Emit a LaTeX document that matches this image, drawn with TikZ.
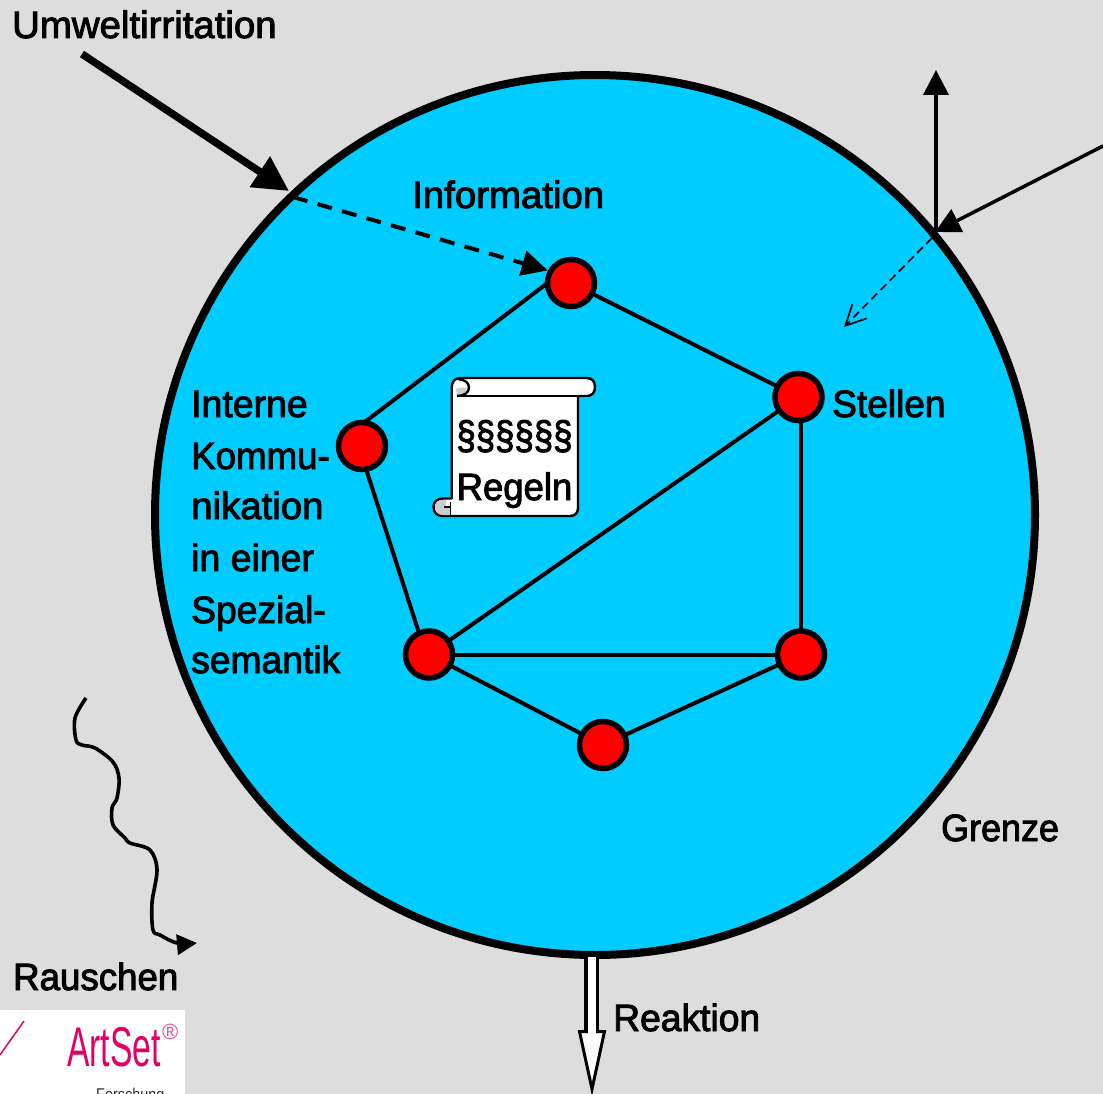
\documentclass[tikz,border=0pt]{standalone}
\usepackage{fontspec}
\setmainfont{Liberation Sans}
\newfontfamily\lblfont{Liberation Sans}[FakeBold=2.5]
\usetikzlibrary{arrows.meta}
\definecolor{bgc}{RGB}{221,221,221}
\definecolor{cyanc}{RGB}{0,204,255}
\definecolor{pinkc}{RGB}{226,0,100}
\definecolor{curlc}{RGB}{204,204,204}
\tikzset{
 lbl/.style={font=\lblfont\fontsize{38}{52}\selectfont,inner sep=0pt,text=black,anchor=base west},
 stelle/.style={circle,draw=black,fill=red,line width=5.5pt,minimum size=47pt,inner sep=0pt,outer sep=0pt},
 link/.style={line width=4pt,draw=black},
 scrollline/.style={line width=2.4pt,draw=black},
}
\begin{document}
\begin{tikzpicture}[x=1pt,y=-1pt]
\useasboundingbox (0,0) rectangle (1103,1094);
\clip (0,0) rectangle (1103,1094);
\fill[bgc] (0,0) rectangle (1103,1094);
% system
\node[circle,draw=black,fill=cyanc,line width=8pt,minimum size=880pt,inner sep=0pt] (sys) at (595,515) {};
% stellen
\node[stelle] (a) at (571,283) {};
\node[stelle] (b) at (798.5,397) {};
\node[stelle] (c) at (362,446) {};
\node[stelle] (d) at (429,654.5) {};
\node[stelle] (e) at (801,654.5) {};
\node[stelle] (f) at (603,745) {};
\coordinate (bx) at (801,420);
\draw[link] (a) -- (b);
\draw[link] (a.180) -- (c.85);
\draw[link] (c.-80) -- (d.115);
\draw[link] (b) -- (d);
\draw[link] (e.north) -- (bx);
\draw[link] (d) -- (e);
\draw[link] (d) -- (f);
\draw[link] (f) -- (e);
% irritation arrows
\coordinate (u0) at (82,54);
\coordinate (u1) at (289,191);
\draw[line width=7.5pt,-{Triangle[length=35pt,width=35pt]}] (u0) -- (u1);
\coordinate (i0) at (293,197);
\draw[line width=4pt,dash pattern=on 15pt off 10.5pt,shorten >=3pt,-{Triangle[length=26pt,width=25pt]}] (i0) -- (a.150);
\coordinate (r0) at (1103,146);
\coordinate (r1) at (935,232);
\coordinate (r2) at (936,70);
\coordinate (r3) at (936,232);
\draw[line width=3.5pt,-{Triangle[length=25pt,width=25pt]}] (r0) -- (r1);
\draw[line width=4pt,-{Triangle[length=25pt,width=25pt]}] (r3) -- (r2);
\coordinate (r4) at (932,238);
\coordinate (r5) at (844,327);
\draw[line width=1.7pt,dash pattern=on 8pt off 5pt,-{Straight Barb[length=20pt,width=20pt,line width=1.7pt]}] (r4) -- (r5);
% noise
\draw[line width=3.6pt,line join=round,-{Triangle[length=20pt,width=20pt]}]
  plot[smooth,tension=0.55] coordinates {(86,698) (75,718) (76,740) (82,745) (95,748) (113,762) (119,778) (117,798) (112,808) (113,825) (125,838) (130,843) (150,850) (157,870) (152,903) (153,930) (160,935) (177,943) (197,943)};
% reaction
\fill[black] (584,957) rectangle (599,1032);
\fill[white] (588,957) rectangle (596,1034);
\draw[line width=3pt,fill=white,miter limit=20] (579.5,1031.5) -- (587.5,1031.5) -- (596,1031.5) -- (604.5,1031.5) -- (592,1089) -- cycle;
\fill[white] (588,1026) rectangle (596,1036);
% scroll
\draw[scrollline,fill=white,line join=round]
  (451.7,388) .. controls (451.7,381) and (455,378) .. (461,378)
  -- (587,378) .. controls (592.5,378) and (595,382) .. (595,387)
  .. controls (595,392.5) and (592,396) .. (587,396) -- (578,396)
  -- (578,508) .. controls (578,513) and (575,516) .. (570,516)
  -- (443,516) .. controls (437,516) and (433.5,512.5) .. (433.5,507)
  .. controls (433.5,501.5) and (437.5,498.5) .. (443,498.5) -- (451.7,498.5) -- cycle;
\fill[curlc] (456,389) .. controls (458,387.5) and (463,387.5) .. (467,388) .. controls (466,392) and (463,395) .. (457,395.5) -- cycle;
\draw[scrollline] (457,396) -- (578,396);
\draw[scrollline] (458,379) .. controls (465,379.5) and (469,383) .. (469,387.5) .. controls (469,392.5) and (464,396) .. (457,396);
\fill[curlc] (435,507) .. controls (435,502.5) and (438.5,500) .. (443,500) -- (446,500) -- (446,507) -- (450,507) -- (450.5,515) -- (443,515) .. controls (438,515) and (435,511.5) .. (435,507) -- cycle;
\draw[line width=1.6pt] (444,507) -- (450.5,507) (450.5,502) -- (450.5,515);
\node[inner sep=0pt,anchor=base,xscale=0.87,font=\lblfont\fontsize{40}{52}\selectfont] (para) at (514.5,449) {§§§§§§};
\node[inner sep=0pt,anchor=base,xscale=0.96,font=\lblfont\fontsize{38}{52}\selectfont] (reg) at (514.5,500) {Regeln};
% labels
\node[lbl,xscale=1.01] (tu) at (12,38) {Umweltirritation};
\node[lbl,xscale=1.01] (ti) at (412,208) {Information};
\node[lbl,xscale=0.975] (ts) at (832,417) {Stellen};
\node[lbl,xscale=0.985] (tk1) at (191,417) {Interne};
\node[lbl,xscale=0.965] (tk2) at (191,469) {Kommu-};
\node[lbl,xscale=1.01] (tk3) at (191,519) {nikation};
\node[lbl,xscale=0.985] (tk4) at (191,571) {in einer};
\node[lbl,xscale=0.98] (tk5) at (191,623) {Spezial-};
\node[lbl,xscale=0.98] (tk6) at (191,673) {semantik};
\node[lbl,xscale=0.945] (tg) at (941,841) {Grenze};
\node[lbl,xscale=0.965] (tr) at (13,990) {Rauschen};
\node[lbl,xscale=0.98] (tq) at (613,1031) {Reaktion};
% logo
\fill[white] (0,1010) rectangle (185,1094);
\draw[pinkc,line width=1.5pt] (24,1021) -- (0,1055);
\node[inner sep=0pt,anchor=base west,text=pinkc,xscale=0.60] (logo) at (67,1066) {\fontsize{56}{60}\selectfont ArtSet};
\node[inner sep=0pt,anchor=base west,text=pinkc!70] (logor) at (162,1039) {\fontsize{22}{24}\selectfont ®};
\node[inner sep=0pt,anchor=base west,text=black!80,xscale=0.85] (logof) at (96,1100) {\fontsize{17}{20}\selectfont Forschung};
\end{tikzpicture}
\end{document}
